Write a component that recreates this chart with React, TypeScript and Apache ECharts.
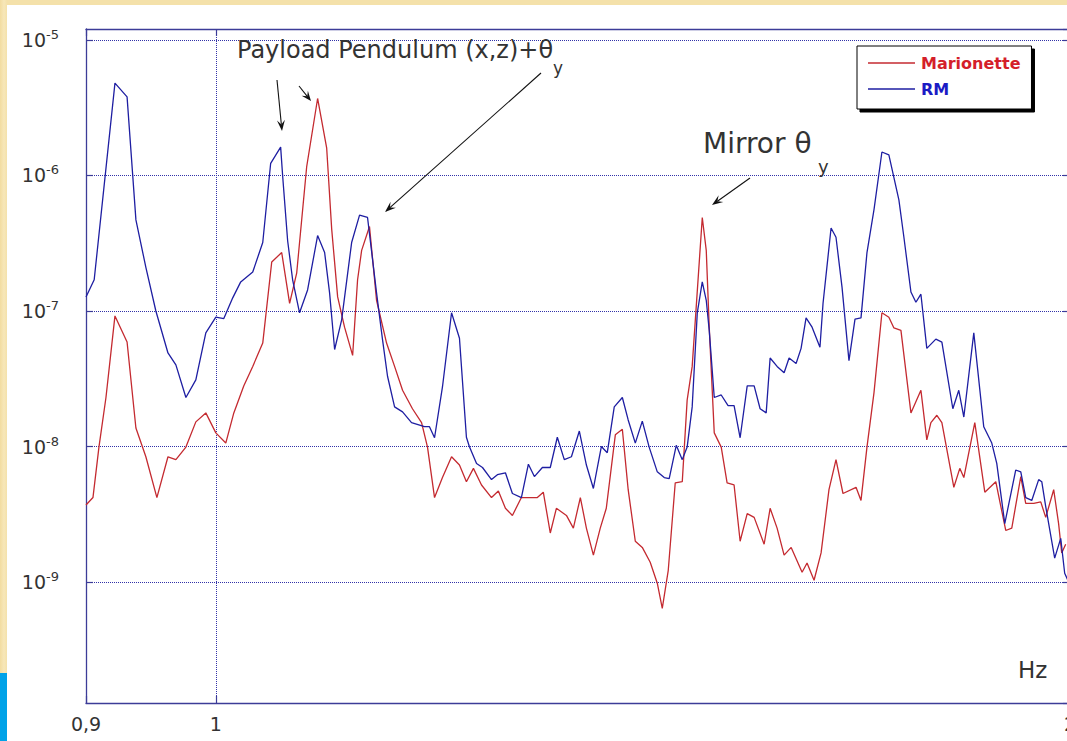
import React, { useEffect, useRef } from "react";
import * as echarts from "echarts";

// ---- data ----
const seriesNames = ["Marionette", "RM"];

const rmFreq = [
  0.9, 0.906, 0.9214, 0.9305, 0.9372, 0.9448, 0.9525, 0.9619, 0.9681, 0.976,
  0.9839, 0.9919, 1.0, 1.0065, 1.0138, 1.0204, 1.0304, 1.0388, 1.0455, 1.054,
  1.0558, 1.06, 1.0643, 1.0703, 1.0773, 1.0861, 1.0923, 1.0967, 1.1012, 1.1075,
  1.1165, 1.1237, 1.131, 1.1393, 1.1449, 1.1495, 1.1561, 1.1636, 1.1721, 1.1845,
  1.1893, 1.1942, 1.2019, 1.2108, 1.2186, 1.2255, 1.2284, 1.2356, 1.2416, 1.2507,
  1.2567, 1.2649, 1.2721, 1.2814, 1.2887, 1.295, 1.3034, 1.3118, 1.3193, 1.3268,
  1.3345, 1.3431, 1.3508, 1.3585, 1.3673, 1.3739, 1.3817, 1.3908, 1.3974, 1.4055,
  1.4135, 1.4214, 1.4308, 1.4389, 1.4447, 1.453, 1.4601, 1.4659, 1.4719, 1.478,
  1.484, 1.4888, 1.4924, 1.4985, 1.507, 1.5154, 1.5228, 1.5303, 1.5391, 1.5478,
  1.5553, 1.563, 1.568, 1.5769, 1.5859, 1.5923, 1.6014, 1.6079, 1.6144, 1.6223,
  1.6327, 1.6368, 1.6475, 1.6541, 1.6622, 1.6716, 1.6798, 1.688, 1.6962, 1.7059,
  1.7169, 1.7266, 1.7407, 1.7478, 1.7578, 1.7649, 1.7721, 1.7806, 1.7937, 1.8025,
  1.8186, 1.8274, 1.8349, 1.8498, 1.8648, 1.877, 1.8846, 1.8969, 1.9138, 1.9217,
  1.9294, 1.9389, 1.9498, 1.9547, 1.961, 1.9753, 1.985, 1.9914, 2.0,
];
const rmAmp = [
  1.27e-7, 1.7e-7, 4.8e-6, 3.8e-6, 4.7e-7, 2.1e-7, 1.0e-7, 4.9e-8, 4.0e-8, 2.3e-8,
  3.1e-8, 6.9e-8, 9.0e-8, 8.8e-8, 1.25e-7, 1.64e-7, 1.94e-7, 3.2e-7, 1.23e-6, 1.62e-6,
  9.7e-7, 3.3e-7, 1.7e-7, 9.7e-8, 1.43e-7, 3.6e-7, 2.7e-7, 1.36e-7, 5.2e-8, 8.6e-8,
  3.2e-7, 5.1e-7, 4.9e-7, 1.36e-7, 6.1e-8, 3.3e-8, 1.96e-8, 1.8e-8, 1.5e-8, 1.4e-8,
  1.4e-8, 1.16e-8, 2.75e-8, 9.7e-8, 6.3e-8, 1.17e-8, 1.0e-8, 7.5e-9, 7.0e-9, 5.7e-9,
  6.2e-9, 6.4e-9, 4.5e-9, 4.2e-9, 7.4e-9, 6.0e-9, 7.0e-9, 7.0e-9, 1.17e-8, 8.0e-9,
  8.4e-9, 1.3e-8, 7.3e-9, 4.9e-9, 1.0e-8, 9.0e-9, 1.96e-8, 2.3e-8, 1.57e-8, 1.06e-8,
  1.54e-8, 9.9e-9, 6.5e-9, 5.9e-9, 5.8e-9, 1.02e-8, 8.0e-9, 9.9e-9, 1.96e-8, 9.7e-8,
  1.64e-7, 1.2e-7, 7.2e-8, 2.3e-8, 2.4e-8, 2.0e-8, 2.0e-8, 1.16e-8, 2.8e-8, 2.8e-8,
  1.9e-8, 1.77e-8, 4.5e-8, 3.9e-8, 3.5e-8, 4.5e-8, 4.1e-8, 5.3e-8, 8.9e-8, 7.6e-8,
  5.4e-8, 1.14e-7, 4.1e-7, 3.5e-7, 1.5e-7, 4.3e-8, 8.7e-8, 8.9e-8, 2.7e-7, 5.6e-7,
  1.49e-6, 1.42e-6, 6.6e-7, 3.5e-7, 1.38e-7, 1.16e-7, 1.33e-7, 5.3e-8, 6.2e-8, 5.9e-8,
  1.9e-8, 2.6e-8, 1.65e-8, 6.9e-8, 1.4e-8, 1.06e-8, 7.5e-9, 2.7e-9, 6.7e-9, 6.5e-9,
  4.2e-9, 4.0e-9, 5.7e-9, 5.5e-9, 3.6e-9, 1.5e-9, 2.1e-9, 1.16e-9, 9.5e-10,
];

const marFreq = [
  0.9, 0.9051, 0.9095, 0.9147, 0.9214, 0.9305, 0.9372, 0.9448, 0.9533, 0.9619,
  0.9681, 0.976, 0.9839, 0.9919, 1.0, 1.0081, 1.0147, 1.0229, 1.0304, 1.0388,
  1.0464, 1.0549, 1.0617, 1.0678, 1.0765, 1.0861, 1.0941, 1.0986, 1.1039, 1.1101,
  1.1174, 1.1219, 1.1256, 1.1328, 1.1393, 1.1486, 1.1561, 1.1636, 1.173, 1.1817,
  1.1874, 1.1942, 1.2019, 1.2108, 1.2186, 1.2255, 1.2325, 1.2406, 1.2507, 1.2577,
  1.2649, 1.2721, 1.2814, 1.2887, 1.2981, 1.3044, 1.3118, 1.3183, 1.3291, 1.3366,
  1.3442, 1.3508, 1.3585, 1.3661, 1.3728, 1.3829, 1.3908, 1.3974, 1.4055, 1.4135,
  1.4226, 1.4308, 1.4366, 1.4436, 1.4518, 1.4601, 1.4659, 1.4719, 1.484, 1.4888,
  1.4924, 1.4985, 1.507, 1.5142, 1.5228, 1.5303, 1.5391, 1.5478, 1.5604, 1.568,
  1.5769, 1.5859, 1.595, 1.6092, 1.6157, 1.6249, 1.6342, 1.6447, 1.6541, 1.6635,
  1.6812, 1.688, 1.6962, 1.7059, 1.7169, 1.7266, 1.7337, 1.7436, 1.7578, 1.7721,
  1.7806, 1.7865, 1.7952, 1.8025, 1.8201, 1.8289, 1.8349, 1.8513, 1.8664, 1.8831,
  1.8984, 1.9077, 1.9217, 1.9294, 1.942, 1.9531, 1.961, 1.9737, 1.9816, 1.9866,
  1.993,
];
const marAmp = [
  3.7e-9, 4.2e-9, 9.9e-9, 2.3e-8, 9.2e-8, 5.9e-8, 1.37e-8, 8.4e-9, 4.2e-9, 8.4e-9,
  8.0e-9, 9.9e-9, 1.52e-8, 1.77e-8, 1.26e-8, 1.06e-8, 1.77e-8, 2.8e-8, 3.9e-8, 5.8e-8,
  2.3e-7, 2.7e-7, 1.14e-7, 1.9e-7, 1.16e-6, 3.7e-6, 1.6e-6, 4.0e-7, 1.27e-7, 7.6e-8,
  4.7e-8, 1.7e-7, 2.8e-7, 4.2e-7, 1.2e-7, 5.8e-8, 3.9e-8, 2.6e-8, 1.9e-8, 1.5e-8,
  9.9e-9, 4.2e-9, 5.9e-9, 8.4e-9, 7.3e-9, 5.5e-9, 6.9e-9, 5.2e-9, 4.2e-9, 4.7e-9,
  3.5e-9, 3.1e-9, 4.2e-9, 4.2e-9, 4.2e-9, 4.6e-9, 2.3e-9, 3.5e-9, 3.1e-9, 2.5e-9,
  4.2e-9, 2.5e-9, 1.58e-9, 2.5e-9, 3.5e-9, 1.22e-8, 1.34e-8, 4.8e-9, 2.0e-9, 1.8e-9,
  1.4e-9, 9.8e-10, 6.4e-10, 1.22e-9, 5.4e-9, 5.5e-9, 2.2e-8, 3.9e-8, 4.9e-7, 2.8e-7,
  7.6e-8, 1.26e-8, 9.9e-9, 5.4e-9, 5.2e-9, 2.0e-9, 3.2e-9, 3.0e-9, 1.9e-9, 3.5e-9,
  2.5e-9, 1.58e-9, 1.8e-9, 1.18e-9, 1.38e-9, 1.03e-9, 1.64e-9, 4.8e-9, 8.0e-9, 4.5e-9,
  5.0e-9, 4.0e-9, 9.9e-9, 2.5e-8, 9.7e-8, 9.0e-8, 7.5e-8, 7.2e-8, 1.77e-8, 2.6e-8,
  1.12e-8, 1.5e-8, 1.7e-8, 1.5e-8, 5.0e-9, 6.9e-9, 5.9e-9, 1.5e-8, 4.6e-9, 5.5e-9,
  2.4e-9, 2.5e-9, 6.0e-9, 3.8e-9, 3.8e-9, 3.9e-9, 3.0e-9, 4.8e-9, 2.7e-9, 1.64e-9,
  1.9e-9,
];

const xRange = [0.9, 2];
const yRange = [1.28e-10, 1.205e-5];
const xTickValues = [0.9, 1, 2];
const xTickLabels = ["0,9", "1", "2"];

// ---- styling ----
const FONT = "DejaVu Sans";
const AXIS_COLOR = "#3c3c98";
const GRID_COLOR = "#3232a8";
const TEXT_COLOR = "#333333";
const RED = "#c42a30";
const BLUE = "#1e1ea2";

function arrow(sx: number, sy: number, tx: number, ty: number, head = 11, half = 4) {
  const dx = tx - sx;
  const dy = ty - sy;
  const L = Math.hypot(dx, dy);
  const ux = dx / L;
  const uy = dy / L;
  const px = -uy;
  const py = ux;
  const bx = tx - ux * head;
  const by = ty - uy * head;
  const nx = tx - ux * head * 0.6;
  const ny = ty - uy * head * 0.6;
  return [
    {
      type: "line",
      z: 20,
      shape: { x1: sx, y1: sy, x2: nx, y2: ny },
      style: { stroke: "#111", lineWidth: 1.1 },
    },
    {
      type: "polygon",
      z: 20,
      shape: {
        points: [
          [tx, ty],
          [bx + px * half, by + py * half],
          [nx, ny],
          [bx - px * half, by - py * half],
        ],
      },
      style: { fill: "#111" },
    },
  ];
}

function makeAxisBase() {
  return {
    axisLine: { show: true, lineStyle: { color: AXIS_COLOR, width: 1.3 } },
    axisTick: { show: true, inside: true, length: 7, lineStyle: { color: AXIS_COLOR, width: 1.2 } },
    minorTick: { show: false },
    minorSplitLine: { show: false },
  };
}

export default function App() {
  const ref = useRef<HTMLDivElement>(null);

  useEffect(() => {
    if (!ref.current) return;
    const chart = echarts.init(ref.current, undefined, { renderer: "svg" });

    const marData = marFreq.map((f, i) => [f, marAmp[i]]);
    const rmData = rmFreq.map((f, i) => [f, rmAmp[i]]);

    const xFormatter = (v: number) => {
      let best = 0;
      for (let i = 1; i < xTickValues.length; i++) {
        if (Math.abs(xTickValues[i] - v) < Math.abs(xTickValues[best] - v)) best = i;
      }
      return xTickLabels[best];
    };

    const option: any = {
      animation: false,
      backgroundColor: "transparent",
      textStyle: { fontFamily: FONT },
      grid: { left: 86, top: 29, right: 10, bottom: 38, containLabel: false },
      legend: {
        orient: "vertical",
        left: 857,
        top: 46,
        icon: "rect",
        itemWidth: 47,
        itemHeight: 1.4,
        itemGap: 8,
        padding: [8, 11, 11, 11],
        backgroundColor: "#ffffff",
        borderColor: "#000000",
        borderWidth: 1,
        shadowColor: "rgba(0,0,0,1)",
        shadowBlur: 0,
        shadowOffsetX: 3,
        shadowOffsetY: 3,
        textStyle: { fontFamily: FONT, fontSize: 16, fontWeight: "bold", lineHeight: 18, padding: [0, 0, 0, 1] },
        data: [
          { name: seriesNames[0], textStyle: { color: "#d41f2a" } },
          { name: seriesNames[1], textStyle: { color: "#1b1bc4" } },
        ],
      },
      xAxis: [
        {
          ...makeAxisBase(),
          type: "log",
          logBase: 10,
          min: xRange[0],
          max: xRange[1],
          position: "bottom",
          axisLabel: {
            show: true,
            formatter: xFormatter,
            fontFamily: FONT,
            fontSize: 19,
            color: TEXT_COLOR,
            margin: 11,
            showMinLabel: true,
            showMaxLabel: true,
          },
          splitLine: { show: true, lineStyle: { type: "dotted", color: GRID_COLOR, width: 1 } },
        },
        {
          ...makeAxisBase(),
          type: "log",
          logBase: 10,
          min: xRange[0],
          max: xRange[1],
          position: "top",
          axisLabel: { show: false },
          splitLine: { show: false },
        },
      ],
      yAxis: [
        {
          ...makeAxisBase(),
          type: "log",
          logBase: 10,
          min: yRange[0],
          max: yRange[1],
          position: "left",
          axisLabel: {
            show: true,
            showMinLabel: false,
            showMaxLabel: false,
            margin: 27,
            formatter: (v: number) => {
              const e = Math.round(Math.log10(v));
              return `{b|10}{s|${e}}`;
            },
            rich: {
              b: { fontFamily: FONT, fontSize: 19, color: TEXT_COLOR, lineHeight: 24 },
              s: { fontFamily: FONT, fontSize: 13, color: TEXT_COLOR, verticalAlign: "top", lineHeight: 24 },
            },
          },
          splitLine: { show: true, lineStyle: { type: "dotted", color: GRID_COLOR, width: 1 } },
        },
        {
          ...makeAxisBase(),
          type: "log",
          logBase: 10,
          min: yRange[0],
          max: yRange[1],
          position: "right",
          axisLabel: { show: false },
          splitLine: { show: false },
        },
      ],
      series: [
        {
          name: seriesNames[0],
          type: "line",
          xAxisIndex: 0,
          yAxisIndex: 0,
          data: marData,
          symbol: "none",
          showSymbol: false,
          lineStyle: { color: RED, width: 1.3 },
          itemStyle: { color: RED },
          z: 3,
        },
        {
          name: seriesNames[1],
          type: "line",
          xAxisIndex: 0,
          yAxisIndex: 0,
          data: rmData,
          symbol: "none",
          showSymbol: false,
          lineStyle: { color: BLUE, width: 1.3 },
          itemStyle: { color: BLUE },
          z: 4,
        },
      ],
      graphic: [
        {
          type: "text",
          z: 20,
          x: 237,
          y: 50,
          style: {
            text: "Payload Pendulum (x,z)+θ",
            fontFamily: FONT,
            fontSize: 24,
            fill: TEXT_COLOR,
            verticalAlign: "middle",
            align: "left",
          },
        },
        {
          type: "text",
          z: 20,
          x: 553,
          y: 68,
          style: { text: "y", fontFamily: FONT, fontSize: 17, fill: TEXT_COLOR, verticalAlign: "middle", align: "left" },
        },
        {
          type: "text",
          z: 20,
          x: 703,
          y: 143,
          style: { text: "Mirror θ", fontFamily: FONT, fontSize: 28, fill: TEXT_COLOR, verticalAlign: "middle", align: "left" },
        },
        {
          type: "text",
          z: 20,
          x: 818,
          y: 166,
          style: { text: "y", fontFamily: FONT, fontSize: 18, fill: TEXT_COLOR, verticalAlign: "middle", align: "left" },
        },
        {
          type: "text",
          z: 20,
          x: 1018,
          y: 670,
          style: { text: "Hz", fontFamily: FONT, fontSize: 23, fill: TEXT_COLOR, verticalAlign: "middle", align: "left" },
        },
        ...arrow(277, 80, 282, 131),
        ...arrow(299, 86, 311, 101, 10, 4),
        ...arrow(541, 73, 385, 212),
        ...arrow(750, 178, 712, 205),
      ],
    };

    chart.setOption(option);
    return () => chart.dispose();
  }, []);

  return (
    <div
      style={{
        position: "fixed",
        left: 0,
        top: 0,
        width: 1067,
        height: 741,
        overflow: "hidden",
        background: "linear-gradient(90deg, #f2dca0 0px, #f7e7b9 4px, #f4e1aa 7px)",
      }}
    >
      <div style={{ position: "absolute", left: 7, top: 5, right: 0, bottom: 0, background: "#ffffff" }} />
      <div style={{ position: "absolute", left: 0, top: 673, width: 7, height: 68, background: "#00a2e8" }} />
      <div ref={ref} style={{ position: "absolute", left: 0, top: 0, width: 1080, height: 741 }} />
    </div>
  );
}
